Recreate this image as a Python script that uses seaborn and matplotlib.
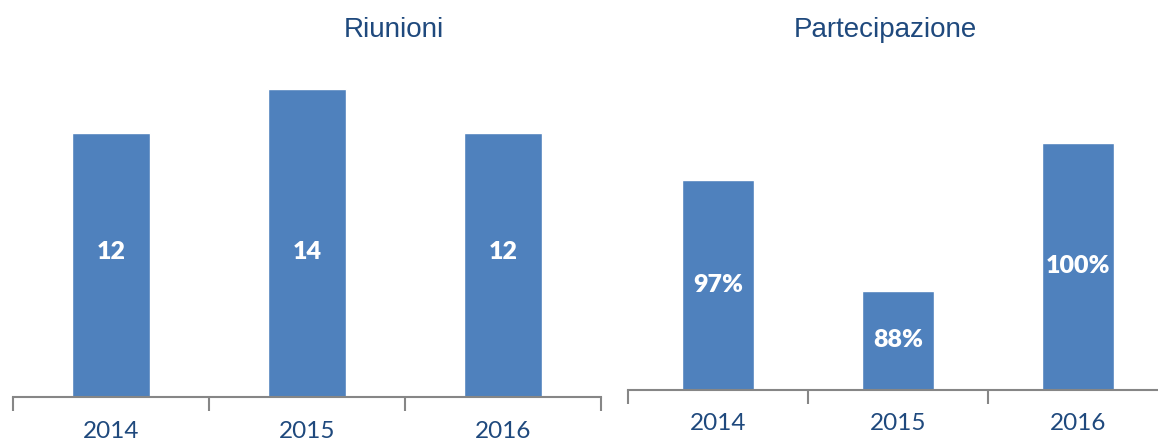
import matplotlib
matplotlib.use("Agg")
import matplotlib.pyplot as plt
import seaborn as sns

# data
years = ["2014", "2015", "2016"]
riunioni = [12, 14, 12]
partecipazione = [97, 88, 100]
riunioni_labels = ["12", "14", "12"]
partecipazione_labels = ["97%", "88%", "100%"]

BAR = "#4F81BD"
TEXT = "#1F497D"
AXIS = "#868686"

sns.set_style("white")
plt.rcParams["font.family"] = ["Lato", "DejaVu Sans"]

fig = plt.figure(figsize=(11.58, 4.44), dpi=100)
W, H = 1158, 444

# axes positions in pixels (left, right, baseline from top, top from top)
ax1 = fig.add_axes([13 / W, (H - 397) / H, 588 / W, 352 / H])
ax2 = fig.add_axes([628 / W, (H - 389.6) / H, 540 / W, 296 / H])

LABEL_FONT = ["Lato", "DejaVu Sans"]


def style(ax):
    ax.set_xlim(-0.5, 2.5)
    for s in ["left", "top", "right"]:
        ax.spines[s].set_visible(False)
    ax.spines["bottom"].set_color(AXIS)
    ax.spines["bottom"].set_linewidth(1.5)
    ax.set_yticks([])
    ax.set_xticks([-0.5, 0.5, 1.5, 2.5], minor=True)
    ax.tick_params(axis="x", which="minor", length=10, width=1.5,
                   color=AXIS, direction="out", bottom=True)
    ax.tick_params(axis="x", which="major", length=0, pad=17,
                   labelsize=17.5, labelcolor=TEXT)
    ax.set_xlabel("")
    ax.set_ylabel("")


sns.barplot(x=years, y=riunioni, ax=ax1, color=BAR, width=0.4, saturation=1)
ax1.set_ylim(0, 16)
style(ax1)
for i, lab in enumerate(riunioni_labels):
    ax1.text(i, 6.6, lab, ha="center", va="center", color="white",
             fontsize=18, fontweight="heavy", family=LABEL_FONT)

sns.barplot(x=years, y=partecipazione, ax=ax2, color=BAR, width=0.4, saturation=1)
ax2.set_ylim(80, 104)
style(ax2)
for i, (v, lab) in enumerate(zip(partecipazione, partecipazione_labels)):
    ax2.text(i, (80 + v) / 2, lab, ha="center", va="center", color="white",
             fontsize=18, fontweight="heavy", family=LABEL_FONT)

fig.text(394 / W, 1 - 37 / H, "Riunioni", ha="center", va="baseline",
         fontsize=20, color=TEXT, family=["Liberation Sans", "DejaVu Sans"])
fig.text(885 / W, 1 - 37 / H, "Partecipazione", ha="center", va="baseline",
         fontsize=20, color=TEXT, family=["Liberation Sans", "DejaVu Sans"])

fig.savefig("out.png", dpi=100)
